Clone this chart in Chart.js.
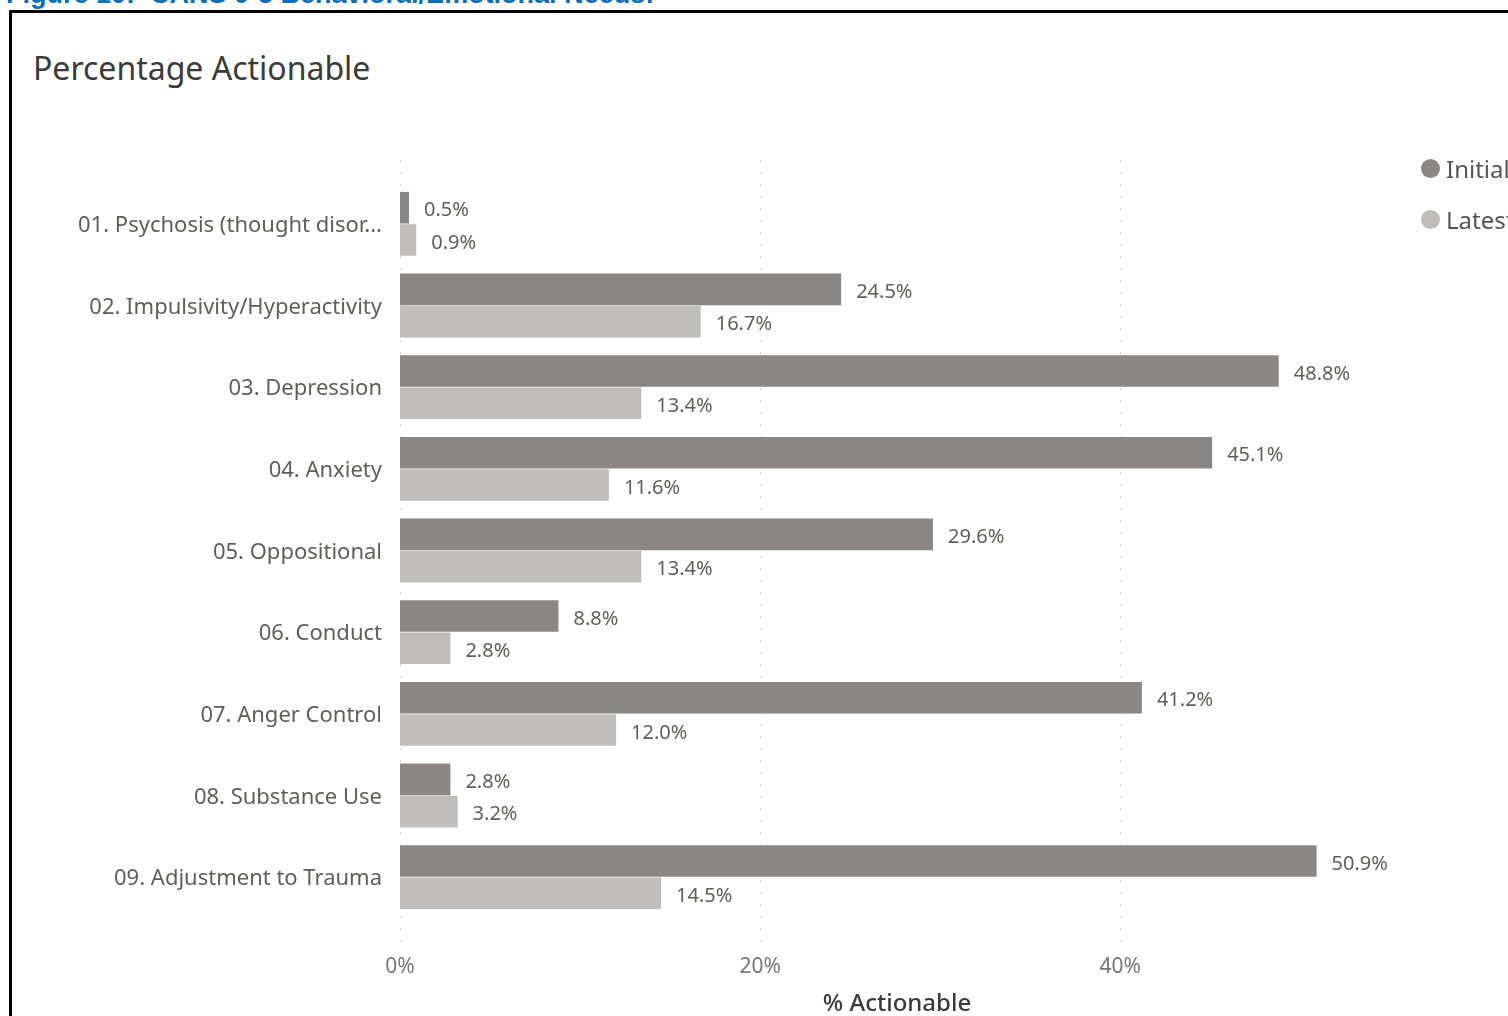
<!DOCTYPE html>
<html>
<head>
<meta charset="utf-8">
<title>Percentage Actionable</title>
<script src="https://cdn.jsdelivr.net/npm/chart.js@4.4.1/dist/chart.umd.min.js"></script>
<style>
    html, body { margin: 0; padding: 0; background: #fff; overflow: hidden; width: 1508px; height: 1016px; }
    #fig-caption {
        position: absolute; left: 6px; top: -19px; white-space: nowrap;
        font: bold 27px "Liberation Sans", Arial, sans-serif; line-height: 1; color: #0070C0;
    }
    #frame {
        position: absolute; left: 9px; top: 10px; width: 1600px; height: 1100px;
        border: 3px solid #000;
    }
    #visual-title {
        position: absolute; left: 33px; top: 49px;
        font: 32px "Noto Sans", sans-serif; color: #3a3a3a; line-height: 1.2;
    }
    #chart-wrap { position: absolute; left: 0; top: 0; width: 1508px; height: 1016px; }
    #legend { position: absolute; left: 1421px; top: 156px; font: 24px "Noto Sans", sans-serif; color: #555; }
    #legend .item { display: flex; align-items: center; height: 24px; margin-bottom: 27px; white-space: nowrap; }
    #legend .dot { width: 19px; height: 19px; border-radius: 50%; margin-right: 6px; }
</style>
</head>
<body>
<div id="fig-caption">Figure 10:&nbsp;&nbsp;CANS 0-5 Behavioral/Emotional Needs:</div>
<div id="frame"></div>
<div id="visual-title">Percentage Actionable</div>
<div id="chart-wrap"><canvas id="chart" width="1508" height="1016"></canvas></div>
<div id="legend"></div>
<script>
const categories = [
    '01. Psychosis (thought disor...',
    '02. Impulsivity/Hyperactivity',
    '03. Depression',
    '04. Anxiety',
    '05. Oppositional',
    '06. Conduct',
    '07. Anger Control',
    '08. Substance Use',
    '09. Adjustment to Trauma'
];
const initialValues = [0.5, 24.5, 48.8, 45.1, 29.6, 8.8, 41.2, 2.8, 50.9];
const latestValues = [0.9, 16.7, 13.4, 11.6, 13.4, 2.8, 12.0, 3.2, 14.5];
const xTicks = [0, 20, 40];

const labelColor = '#605E5C';

// dotted vertical gridlines, a bit taller than the plot like Power BI does
const dottedGrid = {
    id: 'dottedGrid',
    beforeDatasetsDraw(chart) {
        const ctx = chart.ctx;
        const area = chart.chartArea;
        const xScale = chart.scales.x;
        ctx.save();
        ctx.strokeStyle = '#d4d4d4';
        ctx.lineWidth = 1;
        ctx.setLineDash([2, 10]);
        xTicks.forEach(v => {
            const x = Math.round(xScale.getPixelForValue(v)) + 0.5;
            ctx.beginPath();
            ctx.moveTo(x, area.top - 23);
            ctx.lineTo(x, area.bottom + 25);
            ctx.stroke();
        });
        ctx.restore();
    }
};

// value labels at the end of each bar
const barValueLabels = {
    id: 'barValueLabels',
    afterDatasetsDraw(chart) {
        const ctx = chart.ctx;
        ctx.save();
        ctx.font = '20px "Noto Sans", sans-serif';
        ctx.fillStyle = labelColor;
        ctx.textAlign = 'left';
        ctx.textBaseline = 'middle';
        chart.data.datasets.forEach((ds, i) => {
            chart.getDatasetMeta(i).data.forEach((bar, j) => {
                ctx.fillText(ds.data[j].toFixed(1) + '%', bar.x + 15, bar.y + 3);
            });
        });
        ctx.restore();
    }
};

const chart = new Chart(document.getElementById('chart'), {
    type: 'bar',
    data: {
        labels: categories,
        datasets: [
            {
                label: 'Initial',
                data: initialValues,
                backgroundColor: '#8B8785'
            },
            {
                label: 'Latest',
                data: latestValues,
                backgroundColor: '#BFBEBD'
            }
        ]
    },
    options: {
        indexAxis: 'y',
        responsive: false,
        animation: false,
        layout: { padding: { top: 183, left: 0, right: 114, bottom: 0 } },
        datasets: {
            bar: { categoryPercentage: 0.79, barPercentage: 0.98 }
        },
        plugins: {
            legend: { display: false },
            tooltip: { enabled: false }
        },
        scales: {
            x: {
                min: 0,
                max: 55.2,
                afterFit(scale) { scale.height = 98; },
                afterBuildTicks(scale) {
                    scale.ticks = xTicks.map(v => ({ value: v }));
                },
                grid: { display: false },
                border: { display: false },
                ticks: {
                    padding: 28,
                    color: '#777',
                    font: { family: 'Noto Sans', size: 21 },
                    callback: v => v + '%'
                },
                title: {
                    display: true,
                    text: '% Actionable',
                    color: '#3a3a3a',
                    padding: { top: 0, bottom: -3 },
                    font: { family: 'Noto Sans', size: 24, weight: '500' }
                }
            },
            y: {
                afterFit(scale) { scale.width = 400; },
                grid: { display: false, drawTicks: false },
                border: { display: false },
                ticks: {
                    padding: 18,
                    labelOffset: 2,
                    color: labelColor,
                    font: { family: 'Noto Sans', size: 22 }
                }
            }
        }
    },
    plugins: [dottedGrid, barValueLabels]
});

// legend built from the datasets
const legendEl = document.getElementById('legend');
chart.data.datasets.forEach(ds => {
    const item = document.createElement('div');
    item.className = 'item';
    item.innerHTML = '<span class="dot" style="background:' + ds.backgroundColor + '"></span>' + ds.label;
    legendEl.appendChild(item);
});
</script>
</body>
</html>
